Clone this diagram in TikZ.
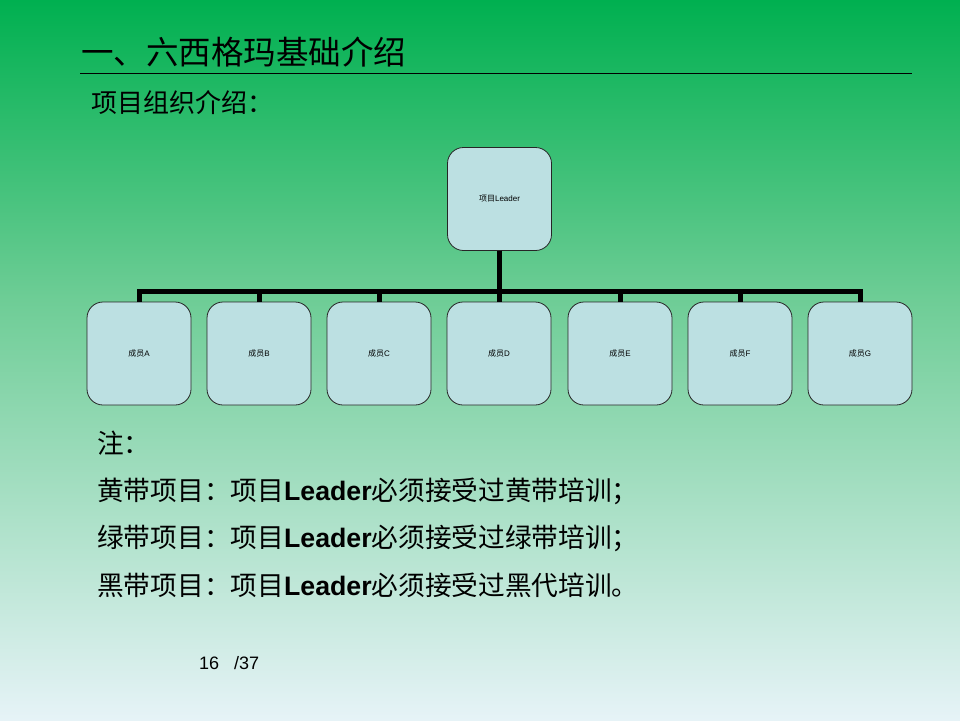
\documentclass[tikz,border=0pt]{standalone}
\usepackage{fontspec}
\setmainfont{Liberation Sans}
\newfontfamily\cjk{Noto Sans CJK SC}
\definecolor{topgreen}{RGB}{0,176,80}
\definecolor{midgreen}{RGB}{110,205,150}
\definecolor{botpale}{RGB}{230,243,247}
\definecolor{boxfill}{RGB}{188,224,226}
\tikzset{
  orgbox/.style={draw=black!85, line width=0.8pt, fill=boxfill, rounded corners=16pt,
    minimum width=104pt, minimum height=103pt, inner sep=0pt, font=\fontsize{8}{9}\selectfont},
  conn/.style={line width=5pt, black},
  bodytext/.style={anchor=west, inner sep=0pt, font=\fontsize{26.7}{30}\selectfont\cjk}
}
\begin{document}
\begin{tikzpicture}[x=1pt,y=-1pt]
\useasboundingbox (0,0) rectangle (960,720);
\shade[top color=topgreen, bottom color=midgreen] (0,0) rectangle (960,300);
\shade[top color=midgreen, bottom color=botpale] (0,300) rectangle (960,720);
\node[anchor=west, inner sep=0pt, font=\fontsize{32.5}{34}\selectfont\cjk] (title) at (81,52) {一、六西格玛基础介绍};
\coordinate (rl) at (80,73);
\coordinate (rr) at (912,73);
\draw[line width=0.8pt] (rl) -- (rr);
\node[anchor=west, inner sep=0pt, font=\fontsize{26}{28}\selectfont\cjk] (sub) at (91,103) {项目组织介绍：};
\node[orgbox] (L) at (499.5,199) {{\cjk 项目}Leader};
\foreach \n/\x/\t in {A/139/A,B/259/B,C/379/C,D/499/D,E/620/E,F/740/F,G/860/G}{
  \node[orgbox] (\n) at (\x,353.5) {{\cjk 成员}\t};
}
\coordinate (bar) at (499.5,291);
\foreach \n in {A,B,C,D,E,F,G}{
  \draw[conn] (L.south) -- (L.south |- bar) -| (\n.north);
}
\node[bodytext] (n0) at (97,443) {注：};
\node[bodytext] (n1) at (97,491) {黄带项目：项目{\fontspec{Liberation Sans}\bfseries Leader}必须接受过黄带培训；};
\node[bodytext] (n2) at (97,538) {绿带项目：项目{\fontspec{Liberation Sans}\bfseries Leader}必须接受过绿带培训；};
\node[bodytext] (n3) at (97,585) {黑带项目：项目{\fontspec{Liberation Sans}\bfseries Leader}必须接受过黑代培训。};
\node[anchor=west, inner sep=0pt, font=\fontsize{18}{20}\selectfont] (pg) at (199,663) {16\ \ \ /37};
\end{tikzpicture}
\end{document}
